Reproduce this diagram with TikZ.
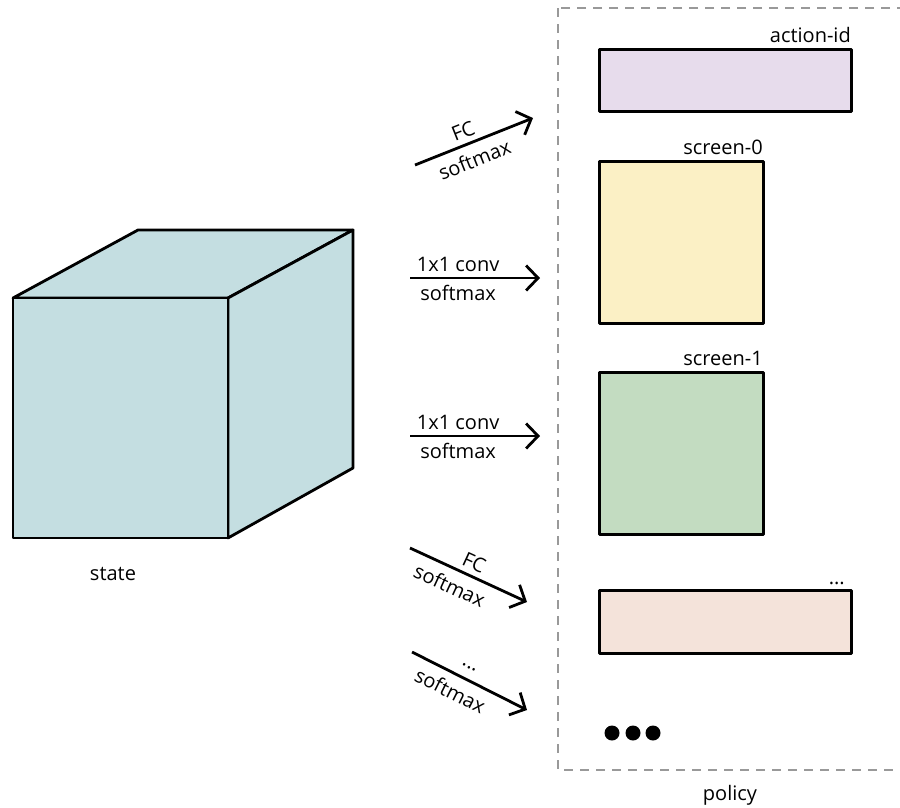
\documentclass[tikz,border=0pt]{standalone}
\usepackage{fontspec}
\setmainfont{Open Sans}
\usetikzlibrary{arrows.meta}

\definecolor{cubecol}{HTML}{C4DEE1}
\definecolor{actcol}{HTML}{E7DCEC}
\definecolor{scrAcol}{HTML}{FBF0C5}
\definecolor{scrBcol}{HTML}{C3DCC1}
\definecolor{argcol}{HTML}{F4E3DA}

\begin{document}
\begin{tikzpicture}[x=1pt,y=-1pt,
					line join=round,
					box node/.style={draw,line width=3pt,inner sep=0pt,anchor=north west},
					text node/.style={font=\fontsize{20}{24}\selectfont,inner sep=2pt},
					net arrow/.style={-{Straight Barb[length=12pt,width=25pt]},line width=2.8pt}]

  \useasboundingbox (0,0) rectangle (900,807);

  % state cube
  \filldraw[fill=cubecol,line width=2.8pt] (13,298) -- (138,230) -- (353,230) -- (228,298) -- cycle;
  \filldraw[fill=cubecol,line width=2.8pt] (228,298) -- (353,230) -- (353,468) -- (228,538) -- cycle;
  \filldraw[fill=cubecol,line width=2.8pt] (13,298) rectangle (228,538);
  \node[text node] (state) at (113,574) {state};

  % policy frame
  \draw[gray!80,line width=1.3pt,dash pattern=on 9pt off 7pt] (558,8) rectangle (930,770);
  \node[text node] (policy) at (730,795) {policy};

  \node[box node,fill=actcol,minimum width=252pt,minimum height=62pt] (act) at (598,48) {};
  \node[text node,anchor=south east] at ([yshift=3pt]act.north east) {action-id};

  \node[box node,fill=scrAcol,minimum width=164pt,minimum height=162pt] (scr0) at (598,160) {};
  \node[text node,anchor=south east] at ([yshift=3pt]scr0.north east) {screen-0};

  \node[box node,fill=scrBcol,minimum width=164pt,minimum height=162pt] (scr1) at (598,371) {};
  \node[text node,anchor=south east] at ([yshift=3pt]scr1.north east) {screen-1};

  \node[box node,fill=argcol,minimum width=252pt,minimum height=63pt] (arg) at (598,589) {};
  \node[text node,anchor=south east] at ([xshift=-6pt,yshift=2pt]arg.north east) {...};

  \foreach \x in {612,633,653}
    \fill (\x,733) circle (7.5pt);

  % heads
  \coordinate (h1s) at (415,165);
  \coordinate (h1e) at (533,118);
  \coordinate (h2s) at (410,278);
  \coordinate (h2e) at (540,278);
  \coordinate (h3s) at (410,436);
  \coordinate (h3e) at (540,436);
  \coordinate (h4s) at (410,548);
  \coordinate (h4e) at (527,602);
  \coordinate (h5s) at (412,652);
  \coordinate (h5e) at (527,710);

  \draw[net arrow] (h1s) -- node[text node,above=3pt,sloped,pos=0.45] {FC} node[text node,below=6pt,sloped,pos=0.45] {softmax} (h1e);
  \draw[net arrow] (h2s) -- node[text node,above=3pt,pos=0.37] {1x1 conv} node[text node,below=4pt,pos=0.37] {softmax} (h2e);
  \draw[net arrow] (h3s) -- node[text node,above=3pt,pos=0.37] {1x1 conv} node[text node,below=4pt,pos=0.37] {softmax} (h3e);
  \draw[net arrow] (h4s) -- node[text node,above=3pt,sloped,pos=0.5] {FC} node[text node,below=6pt,sloped,pos=0.4] {softmax} (h4e);
  \draw[net arrow] (h5s) -- node[text node,above=7pt,sloped,pos=0.45] {...} node[text node,below=6pt,sloped,pos=0.4] {softmax} (h5e);
\end{tikzpicture}
\end{document}
